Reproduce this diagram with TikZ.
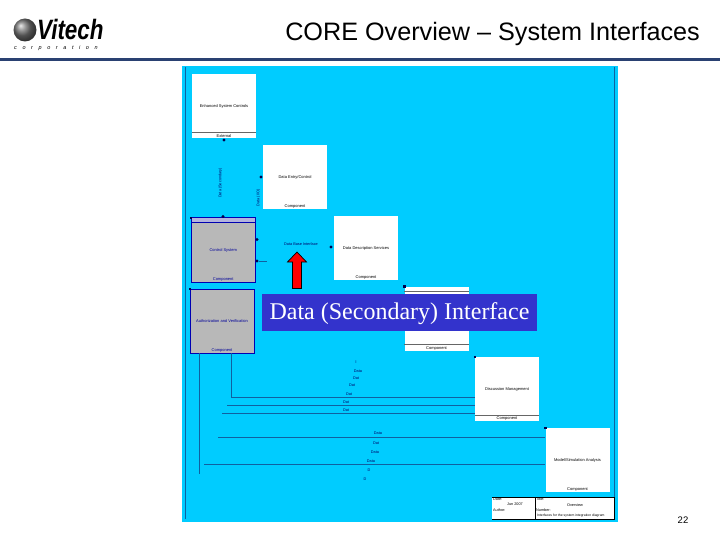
\documentclass[tikz,border=0pt]{standalone}
\usepackage{fontspec}
\setmainfont{Liberation Sans}
\newfontfamily\calloutfont{Liberation Serif}
\usetikzlibrary{shapes,arrows,positioning,calc}
\definecolor{panelcyan}{HTML}{00CCFF}
\definecolor{rulenavy}{HTML}{2A4172}
\definecolor{calloutblue}{HTML}{3333CC}
\definecolor{linkblue}{HTML}{1060A0}
\definecolor{greybox}{HTML}{B8B8B8}
\definecolor{greyband}{HTML}{B4B4DC}
\tikzset{
  whitebox/.style={fill=white,minimum width=64,minimum height=64,inner sep=0,font=\fontsize{4}{4.5}\selectfont},
  greyedbox/.style={whitebox,fill=greybox,draw=blue!70!black,line width=0.5,text=blue!60!black},
  footer/.style={inner sep=0.6,font=\fontsize{4}{4.5}\selectfont,anchor=south},
  portdot/.style={circle,fill=blue!30!black,inner sep=0,minimum size=3.4},
  corner/.style={rectangle,fill=blue!30!black,inner sep=0,minimum size=2.4},
  linelabel/.style={inner sep=0,text=blue!40!black,font=\fontsize{3.8}{4}\selectfont},
  link/.style={linkblue,line width=0.7}
}
\begin{document}
\begin{tikzpicture}[x=1pt,y=-1pt]
\useasboundingbox (0,0) rectangle (720,540);
\fill[white] (0,0) rectangle (720,540);
\shade[ball color=black!55] (25,30) circle (11.5);
\node[inner sep=0,anchor=west,xscale=0.8,font=\fontsize{28}{28}\selectfont\bfseries\itshape] (logo) at (37,29.5) {Vitech};
\node[inner sep=0,anchor=west,font=\fontsize{5.5}{6}\selectfont\itshape] (logosub) at (14,48.5) {c\hspace{5.6pt}o\hspace{5.6pt}r\hspace{5.6pt}p\hspace{5.6pt}o\hspace{5.6pt}r\hspace{5.6pt}a\hspace{5.6pt}t\hspace{5.6pt}i\hspace{5.6pt}o\hspace{5.6pt}n};
\node[inner sep=0,anchor=east,font=\fontsize{25.2}{27}\selectfont] (title) at (700,34) {CORE Overview -- System Interfaces};
\fill[rulenavy] (0,58.3) rectangle (720,60.8);
\fill[panelcyan] (182,66) rectangle (618,522);
\draw[link] (185.7,67) -- (185.7,519);
\draw[link] (614,67) -- (614,497);
\node[whitebox] (enhance) at (224,106) {Enhanced System Controls};
\node[whitebox] (entry) at (295,177) {Data Entry/Control};
\node[whitebox] (descr) at (366,248) {Data Description Services};
\node[whitebox] (hidden) at (436.5,318.5) {};
\node[whitebox] (discuss) at (507,389) {Discussion Management};
\node[whitebox] (model) at (577.5,460) {Model/Simulation Analysis};
\node[greyedbox] (control) at (223.2,250) {Control System};
\node[greyedbox] (authorize) at (222,321) {Authorization and Verification};
\node[footer] at (enhance.south) {External};
\node[footer] at (entry.south) {Component};
\node[footer] at (descr.south) {Component};
\node[footer] at (hidden.south) {Component};
\node[footer] at (discuss.south) {Component};
\node[footer] at (model.south) {Component};
\node[footer,text=blue!60!black] at (control.south) {Component};
\node[footer,text=blue!60!black] at (authorize.south) {Component};
\draw[black!60,line width=0.6] ($(enhance.south west)+(0,-6)$) -- ($(enhance.south east)+(0,-6)$);
\draw[black!60,line width=0.6] ($(hidden.north west)+(0,5)$) -- ($(hidden.north east)+(0,5)$);
\draw[black!60,line width=0.6] ($(hidden.south west)+(0,-6.5)$) -- ($(hidden.south east)+(0,-6.5)$);
\draw[black!60,line width=0.6] ($(discuss.south west)+(0,-6)$) -- ($(discuss.south east)+(0,-6)$);
\fill[greyband,draw=blue!70!black,line width=0.5] (control.north west) rectangle ($(control.north east)+(0,5)$);
\node[portdot] (enhancedot) at (224,140) {};
\node[portdot] (controldot) at (223,216.5) {};
\node[portdot] (entrydot) at (261,177) {};
\node[portdot] (descrdot) at (331,247) {};
\node[portdot] (controlin) at (257,239.5) {};
\node[portdot] (controlout) at (257,261) {};
\coordinate (controlend) at (267,261);
\draw[link] (controlout) -- (controlend);
\node[corner] at (control.north west) {};
\node[corner] at (authorize.north west) {};
\node[corner] at (hidden.north west) {};
\node[corner] at (discuss.north west) {};
\node[corner] at (model.north west) {};
\node[linelabel,rotate=90] (linka) at (220.5,183) {Data (Secondary)};
\node[linelabel,rotate=90] (linkb) at (258.5,198) {Data (I/O)};
\node[linelabel] (datalabel) at (301,244.5) {Data Base Interface};
\coordinate (trunka) at (199,474);
\coordinate (trunkb) at (231,397);
\draw[link] (authorize.south -| trunka) -- (trunka);
\draw[link] (authorize.south -| trunkb) |- (discuss.west |- trunkb);
\coordinate (rowa) at (227,405);
\coordinate (rowb) at (222,413);
\coordinate (rowc) at (218,437);
\coordinate (rowd) at (204,464);
\draw[link] (rowa) -- (discuss.west |- rowa);
\draw[link] (rowb) -- (discuss.west |- rowb);
\draw[link] (rowc) -- (model.west |- rowc);
\draw[link] (rowd) -- (model.west |- rowd);
\foreach \lx/\ly/\ltext in {356/362/l,358/371/Data,356/378/Dat,352/385/Dat,349/394/Dat,346/402/Dat,346/410/Dat,378/433.5/Data,376/443/Dat,375/452/Data,371/461/Data,369/470/D,365/479/D}
  \node[linelabel] at (\lx,\ly) {\ltext};
\node[fill=white,inner sep=0,minimum width=122,minimum height=22,anchor=north west] (block) at (492,497) {};
\draw[black,line width=0.4] (block.north west) -- (block.north east) -- (block.south east) -- (block.south west);
\draw[black,line width=0.4] ($(block.north west)+(43,0)$) -- ($(block.south west)+(43,0)$);
\node[linelabel,text=black,anchor=west] at (493,499.5) {Date:};
\node[linelabel,text=black] at (515,504.5) {Jun 2007};
\node[linelabel,text=black,anchor=west] at (493,510.5) {Author:};
\node[linelabel,text=black,anchor=west] at (536,499.5) {Title:};
\node[linelabel,text=black] at (575,505) {Overview};
\node[linelabel,text=black,anchor=west] at (536,510.5) {Number:};
\node[linelabel,text=black,anchor=west,font=\fontsize{3.4}{4}\selectfont] at (537,516) {Interfaces for the system integration diagram};
\node[fill=calloutblue,inner sep=0,minimum width=275,minimum height=37] (callout) at (399.5,312.5) {};
\node[inner sep=0,text=white,font=\calloutfont\fontsize{24}{25}\selectfont] (calloutext) at (399.5,314) {Data (Secondary) Interface};
\draw[fill=red,draw=black,line width=0.7] (297,252) -- (306.5,262) -- (301.5,262) -- (301.5,288.5) -- (292.5,288.5) -- (292.5,262) -- (287.5,262) -- cycle;
\node[inner sep=0,font=\fontsize{9.5}{11}\selectfont] (pagenum) at (683,520) {22};
\end{tikzpicture}
\end{document}
